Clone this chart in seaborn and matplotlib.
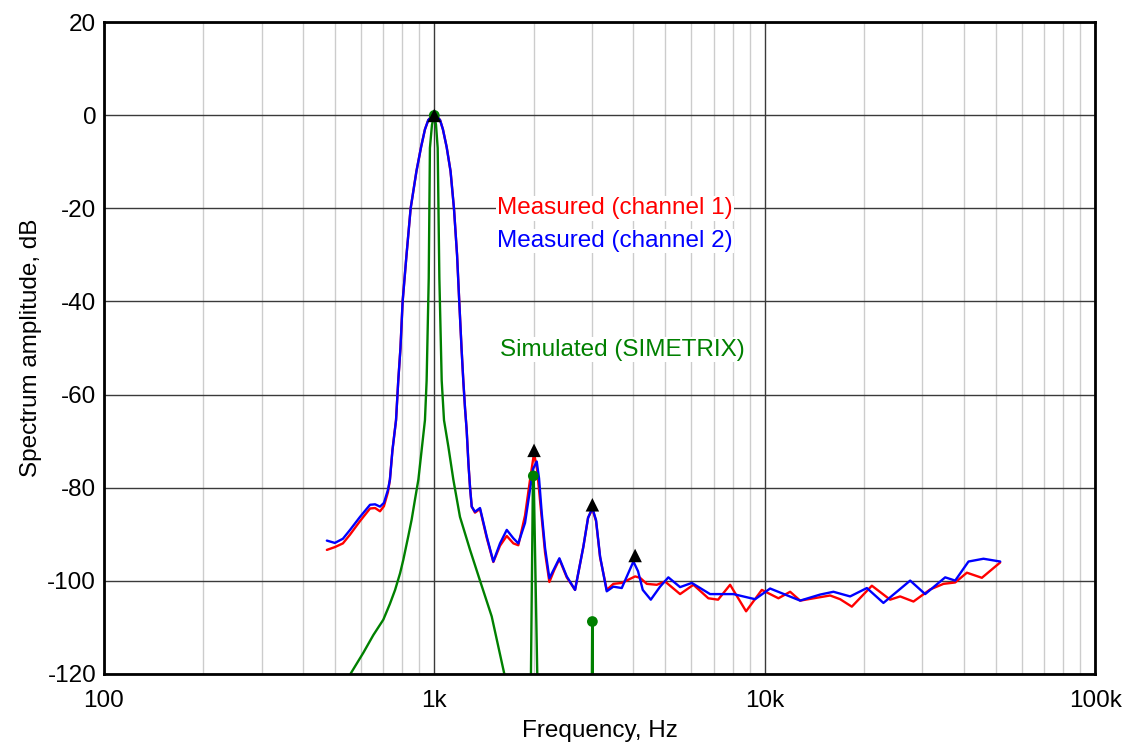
import numpy as np
import pandas as pd
import seaborn as sns
import matplotlib.pyplot as plt
import matplotlib.ticker as ticker

# measured spectrum, channel 1 (Hz, dB)
freq_ch1 = [473, 500, 529, 556, 596, 639, 662, 685, 704, 724, 734, 747, 766, 778, 790, 802, 824,
            848, 883, 912, 937, 959, 979, 1000, 1021, 1041, 1062, 1090, 1120, 1147, 1172, 1190,
            1209, 1224, 1239, 1253, 1269, 1283, 1298, 1328, 1375, 1441, 1509, 1581, 1657, 1735,
            1796, 1882, 1949, 2004, 2046, 2114, 2164, 2230, 2304, 2391, 2517, 2667, 2826, 2920,
            3009, 3087, 3175, 3326, 3483, 3693, 4053, 4196, 4396, 4714, 4994, 5545, 6084, 6752,
            7226, 7857, 8783, 9800, 11003, 11939, 12800, 15776, 16916, 18350, 21101, 23966, 25700,
            28197, 31678, 34760, 37710, 40916, 45418, 51603]
db_ch1 = [-93.4, -92.8, -92.0, -90.1, -87.2, -84.5, -84.4, -85.1, -84.0, -81.0, -78.3, -72, -65.5,
          -57, -50, -40, -30, -20, -12, -6.8, -3, -1, -0.3, 0, -0.3, -1, -3, -6.8, -12, -20, -30,
          -40, -50, -57, -63, -67.6, -75, -80, -84.1, -85.4, -84.6, -90.8, -96.0, -92.5, -90.4,
          -92.0, -92.4, -86.0, -78.3, -72.6, -76, -86.5, -94, -100.3, -97.8, -95.4, -99.3, -102,
          -92.7, -86.5, -84.6, -87.2, -95, -102, -100.7, -100.5, -99.1, -99.4, -100.7, -100.9,
          -100.2, -102.9, -100.9, -103.8, -104.1, -100.9, -106.6, -102, -103.8, -102.4, -104.3,
          -103.2, -104, -105.6, -101.1, -104.1, -103.4, -104.5, -101.9, -100.7, -100.4, -98.3,
          -99.4, -96.1]

# measured spectrum, channel 2 (Hz, dB)
freq_ch2 = [473, 500, 529, 556, 596, 639, 662, 685, 704, 724, 734, 747, 766, 778, 790, 802, 824,
            848, 883, 912, 937, 959, 979, 1000, 1021, 1041, 1062, 1090, 1120, 1147, 1172, 1190,
            1209, 1224, 1239, 1253, 1269, 1283, 1298, 1328, 1375, 1441, 1509, 1581, 1657, 1735,
            1796, 1882, 1949, 1990, 2042, 2075, 2114, 2164, 2230, 2304, 2391, 2517, 2667, 2826,
            2920, 3009, 3087, 3175, 3326, 3483, 3693, 3832, 4005, 4137, 4275, 4521, 4824, 5110,
            5545, 6017, 6833, 8039, 9353, 10383, 12800, 14718, 16143, 18134, 20379, 22871, 27556,
            30595, 35175, 37710, 41375, 45928, 51603]
db_ch2 = [-91.4, -91.9, -91.0, -89.1, -86.3, -83.7, -83.6, -84.1, -83.3, -80.5, -78.3, -72, -65.5,
          -57, -50, -40, -30, -20, -12, -6.8, -3, -1, -0.3, 0, -0.3, -1, -3, -6.8, -12, -20, -30,
          -40, -50, -57, -63, -67.6, -75, -80, -84.1, -85.2, -84.4, -90.5, -95.9, -92.0, -89.1,
          -90.9, -92.0, -87.6, -80.4, -76, -74.4, -78, -85.4, -93, -99.5, -97.5, -95.2, -99.1,
          -102, -92.7, -86.5, -84.4, -87, -94.8, -102.3, -101.3, -101.6, -99, -95.9, -98, -102,
          -104.1, -101.3, -99.3, -101.4, -100.5, -102.9, -102.9, -104, -101.7, -104.3, -103,
          -102.4, -103.4, -101.6, -104.8, -100, -102.9, -99.3, -100, -95.9, -95.3, -95.9]

# simulated spectrum (values under -120 fall below the axis)
freq_sim = [537, 556, 610, 654, 701, 734, 761, 788, 806, 834, 854, 874, 895, 937, 948, 962, 970,
            984, 1000, 1012, 1024, 1036, 1053, 1070, 1103, 1142, 1196, 1283, 1375, 1492, 1626,
            1683, 1960, 1988, 1994, 2000, 2052, 2998, 3005, 3009, 3013, 3020]
db_sim = [-123, -120.2, -115.5, -111.7, -108.4, -105.0, -102, -98.4, -95.5, -90.5, -86.9, -82.6,
          -78.3, -65.5, -57, -35, -7, -2, 0, -2, -7, -35, -57, -65.5, -71.2, -78.3, -86.3, -93.4,
          -100.0, -107.7, -119.8, -124, -122, -78.5, -77.5, -78.5, -122, -122, -109.5, -108.8,
          -109.5, -122]

# harmonic markers
harm_freq = [1000, 2004, 3009, 4053]
harm_meas = [0, -72, -83.7, -94.6]
sim_dot_freq = [1000, 1994, 3009]
sim_dot_db = [0, -77.5, -108.8]

y_ticks = [-120, -100, -80, -60, -40, -20, 0, 20]
x_ticks = [100, 1000, 10000, 100000]
x_tick_labels = ['100', '1k', '10k', '100k']

df_ch1 = pd.DataFrame({'freq': freq_ch1, 'db': db_ch1})
df_ch2 = pd.DataFrame({'freq': freq_ch2, 'db': db_ch2})
df_sim = pd.DataFrame({'freq': freq_sim, 'db': db_sim})

sns.set_style('white')
plt.rcParams['font.family'] = ['Liberation Sans', 'DejaVu Sans']
plt.rcParams['axes.unicode_minus'] = False
plt.rcParams['text.color'] = 'black'
plt.rcParams['axes.labelcolor'] = 'black'
plt.rcParams['xtick.color'] = 'black'
plt.rcParams['ytick.color'] = 'black'

fig, ax = plt.subplots(figsize=(11.29, 7.46), dpi=100)
fig.subplots_adjust(left=0.092, right=0.970, bottom=0.097, top=0.970)

line_kw = dict(lw=1.7, sort=False, estimator=None, ax=ax)
sns.lineplot(data=df_ch1, x='freq', y='db', color='#ff0000', **line_kw)
sns.lineplot(data=df_ch2, x='freq', y='db', color='#0000ff', **line_kw)
sns.lineplot(data=df_sim, x='freq', y='db', color='#008000', **line_kw)
sns.scatterplot(x=sim_dot_freq, y=sim_dot_db, color='#008000', s=60, edgecolor='none', zorder=4, ax=ax)
sns.scatterplot(x=harm_freq, y=harm_meas, color='black', marker='^', s=95, edgecolor='none', zorder=5, ax=ax)

ax.set_xscale('log')
ax.set_xlim(100, 100000)
ax.set_ylim(-120, 20)
ax.set_xticks(x_ticks)
ax.set_xticklabels(x_tick_labels)
ax.set_yticks(y_ticks)
ax.xaxis.set_minor_locator(ticker.LogLocator(base=10, subs=np.arange(2, 10)))
ax.xaxis.set_minor_formatter(ticker.NullFormatter())
ax.yaxis.set_minor_locator(ticker.MultipleLocator(10))

ax.grid(which='major', color='#3a3a3a', lw=1.0)
ax.grid(which='minor', axis='x', color='#cccccc', lw=1.0)
ax.set_axisbelow(True)

ax.tick_params(which='major', direction='inout', length=7, width=1.5, labelsize=17.5)
ax.tick_params(which='minor', direction='inout', length=4.5, width=1.5)
ax.tick_params(axis='y', which='minor', length=2)
ax.tick_params(axis='x', pad=8)
ax.tick_params(axis='y', pad=2)
for side in ['left', 'bottom', 'right', 'top']:
    ax.spines[side].set_linewidth(2)
    ax.spines[side].set_color('black')

ax.set_xlabel('Frequency, Hz', fontsize=17.5, labelpad=6)
ax.set_ylabel('Spectrum amplitude, dB', fontsize=17.5, labelpad=4)

box = dict(facecolor='white', edgecolor='none', pad=1)
ax.text(1548, -20, 'Measured (channel 1)', color='#ff0000', fontsize=17.5, va='center', bbox=box)
ax.text(1548, -27, 'Measured (channel 2)', color='#0000ff', fontsize=17.5, va='center', bbox=box)
ax.text(1585, -50.4, 'Simulated (SIMETRIX)', color='#008000', fontsize=17.5, va='center', bbox=box)

fig.savefig('out.png', dpi=100)
